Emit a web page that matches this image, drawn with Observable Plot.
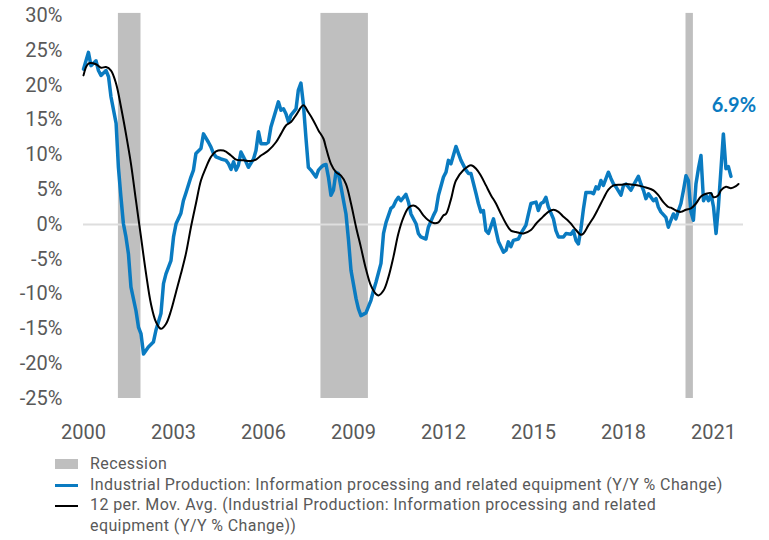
<!DOCTYPE html>
<html><head><meta charset="utf-8">
<script src="https://cdn.jsdelivr.net/npm/d3@7"></script>
<script src="https://cdn.jsdelivr.net/npm/@observablehq/plot@0.6"></script>
<style>
body{margin:0;background:#fff;font-family:Roboto, "Noto Sans", sans-serif;}
#chart{position:relative;width:769px;height:540px;overflow:hidden;}
#chart svg{display:block;}
.legend{position:absolute;left:55px;top:454px;font-size:16px;letter-spacing:0.4px;color:#595959;line-height:20.7px;}
.row{display:flex;align-items:flex-start;}
.swbox{width:23px;height:20.7px;margin-right:12px;flex:none;display:flex;align-items:center;}
.sw{width:23px;}
</style></head>
<body><div id="chart"></div>
<script>
const blueDates = ["2000-01","2000-03","2000-04","2000-06","2000-07","2000-08","2000-10","2000-11","2000-12",
"2001-02","2001-03","2001-04","2001-05","2001-06","2001-07","2001-08","2001-10","2001-11","2001-12",
"2002-01","2002-03","2002-05","2002-06","2002-08","2002-09","2002-10","2002-12",
"2003-01","2003-02","2003-04","2003-05","2003-06","2003-08","2003-09","2003-10","2003-12",
"2004-01","2004-03","2004-04","2004-05","2004-06","2004-08","2004-10","2004-11","2004-12",
"2005-01","2005-02","2005-03","2005-04","2005-05","2005-06","2005-07","2005-09","2005-10","2005-11","2005-12",
"2006-02","2006-03","2006-04","2006-06","2006-07","2006-08","2006-09","2006-10","2006-11","2006-12",
"2007-02","2007-03","2007-04","2007-05","2007-06","2007-07","2007-08","2007-10","2007-11","2007-12",
"2008-01","2008-02","2008-03","2008-04","2008-05","2008-06","2008-07","2008-08","2008-10","2008-11","2008-12",
"2009-02","2009-03","2009-04","2009-06","2009-08","2009-09","2009-10","2009-12",
"2010-01","2010-02","2010-04","2010-05","2010-06","2010-07","2010-08","2010-10","2010-11","2010-12",
"2011-02","2011-03","2011-04","2011-06","2011-07","2011-09","2011-10","2011-11",
"2012-01","2012-02","2012-03","2012-04","2012-06","2012-07","2012-08","2012-10","2012-11","2012-12",
"2013-02","2013-03","2013-04","2013-05","2013-06","2013-07","2013-09","2013-10","2013-11",
"2014-01","2014-02","2014-03","2014-04","2014-05","2014-07","2014-08","2014-10","2014-11","2014-12",
"2015-02","2015-03","2015-04","2015-05","2015-06","2015-07","2015-09","2015-10","2015-11",
"2016-01","2016-02","2016-04","2016-05","2016-06","2016-07","2016-08","2016-09","2016-10","2016-12",
"2017-01","2017-02","2017-03","2017-04","2017-05","2017-07","2017-08","2017-09","2017-10","2017-12",
"2018-01","2018-02","2018-04","2018-05","2018-07","2018-08","2018-09","2018-10","2018-11",
"2019-01","2019-02","2019-03","2019-04","2019-06","2019-07","2019-08","2019-09","2019-10","2019-11","2019-12",
"2020-01","2020-02","2020-03","2020-04","2020-05","2020-06","2020-07","2020-08","2020-09","2020-10","2020-11","2020-12",
"2021-01","2021-02","2021-03","2021-04","2021-05","2021-06","2021-07","2021-08"];
const blueValues = [22.3,24.7,22.8,23.5,22.1,21.4,22.1,21.2,18.3,
14.5,8.2,3.9,0.1,-1.8,-4.2,-9.0,-12.4,-14.8,-15.7,
-18.6,-17.6,-16.9,-15.2,-12.8,-8.5,-7.1,-5.2,
-1.8,0.1,1.6,3.4,4.5,6.8,7.8,10.2,10.9,
13.0,11.8,11.1,10.2,9.7,9.4,9.2,8.7,7.9,
9.0,7.8,8.5,10.4,9.7,9.0,8.2,9.4,10.6,13.3,11.6,
11.6,11.8,14.0,16.4,17.6,16.4,16.6,15.9,14.7,15.7,
16.6,19.3,20.3,17.3,12.5,8.2,7.8,6.8,7.8,8.2,
8.5,8.6,6.8,4.2,4.9,7.5,7.3,5.4,1.5,-2.3,-6.6,
-10.7,-12.1,-13.1,-12.7,-10.9,-9.5,-8.3,-5.6,
-1.3,0.3,2.3,2.6,3.4,3.9,3.4,4.3,3.2,1.5,
0.1,-1.3,-1.8,-2.1,-0.4,1.3,2.0,4.2,
6.8,7.5,9.2,8.7,11.2,10.2,9.2,7.8,7.3,7.3,
4.4,3.0,1.8,2.0,-0.9,-1.3,0.8,-0.9,-2.5,
-4.0,-3.7,-2.5,-3.2,-2.3,-2.1,-1.3,-0.1,1.5,3.0,
3.2,2.0,3.0,3.2,3.9,2.5,0.8,-0.9,-1.8,
-1.8,-1.3,-1.4,-0.9,-2.3,-2.8,-0.6,2.3,4.6,4.6,
4.4,5.4,5.1,6.3,5.6,7.5,6.6,5.8,5.4,4.2,
5.6,5.8,4.9,5.6,6.9,5.8,4.9,3.7,4.4,
3.4,3.7,2.5,1.8,1.0,-0.4,0.6,1.5,0.8,2.0,3.0,
4.9,7.0,6.3,1.8,0.6,5.8,8.0,9.9,3.4,4.2,3.4,4.4,
2.5,-1.3,2.5,7.8,13.0,8.0,8.3,6.9];

const avgDates = ["2000-01","2000-03","2000-06","2000-08","2000-10","2000-12","2001-02","2001-04","2001-06","2001-08","2001-10","2001-12",
"2002-02","2002-04","2002-06","2002-08","2002-10","2002-12","2003-02","2003-04","2003-06","2003-08","2003-10","2003-12",
"2004-02","2004-04","2004-06","2004-09","2004-12","2005-02","2005-05","2005-08","2005-10","2005-12",
"2006-03","2006-06","2006-08","2006-10","2006-12","2007-02","2007-05","2007-07","2007-09","2007-11",
"2008-01","2008-02","2008-04","2008-06","2008-08","2008-10","2008-12","2009-02","2009-04","2009-06","2009-08","2009-10","2009-11",
"2010-01","2010-03","2010-05","2010-07","2010-09","2010-11","2011-01","2011-03","2011-05","2011-07","2011-09","2011-11",
"2012-01","2012-02","2012-04","2012-06","2012-09","2012-12","2013-02","2013-04","2013-06","2013-08","2013-10","2013-12",
"2014-02","2014-04","2014-06","2014-09","2014-12","2015-02","2015-04","2015-07","2015-09","2015-11",
"2016-01","2016-03","2016-04","2016-06","2016-08","2016-09","2016-11","2017-01","2017-03","2017-05","2017-07","2017-09","2017-12",
"2018-02","2018-05","2018-08","2018-10","2019-01","2019-03","2019-05","2019-07","2019-08","2019-10","2019-12",
"2020-02","2020-04","2020-06","2020-08","2020-10","2020-12","2021-01","2021-03","2021-04","2021-06","2021-08","2021-10","2021-11"];
const avgValues = [21.4,23.1,23.0,22.5,22.6,22.1,20.2,16.9,13.0,8.7,3.4,-1.8,
-7.1,-11.4,-14.0,-15.0,-14.3,-12.4,-9.7,-7.1,-4.2,-0.4,3.0,6.3,
8.2,9.7,10.5,10.6,9.9,9.3,9.2,9.1,9.3,9.9,
10.6,11.8,13.0,14.2,14.7,15.7,17.1,16.1,14.9,13.5,
12.3,11.0,8.7,7.5,7.0,5.8,3.0,-0.4,-3.3,-6.4,-8.8,-10.0,-10.2,
-9.5,-7.6,-4.7,-1.3,1.0,2.4,2.7,2.3,1.3,0.6,0.2,0.3,
1.3,1.5,3.6,6.3,7.8,8.5,8.0,7.0,5.6,4.2,3.0,1.5,
0.1,-0.9,-1.1,-1.3,-0.8,0.1,0.8,1.8,2.1,1.8,
1.1,0.5,0.1,-0.8,-1.5,-1.3,-0.1,1.0,2.3,3.7,5.0,5.6,5.7,
5.8,5.7,5.5,5.3,4.9,4.2,3.2,2.5,2.4,2.0,1.8,
2.1,2.3,3.0,4.0,4.4,4.5,3.9,4.2,4.9,5.4,5.2,5.5,5.8];

const recessionStarts = ["2001-03","2007-12","2020-02"];
const recessionEnds = ["2001-12","2009-07","2020-05"];

const xTickYears = ["2000","2003","2006","2009","2012","2015","2018","2021"];
const yTicks = [-25,-20,-15,-10,-5,0,5,10,15,20,25,30];

const parse = d3.utcParse("%Y-%m");
const parseY = d3.utcParse("%Y");
const blue = blueDates.map((d,i)=>({date:parse(d), value:blueValues[i]}));
const avg = avgDates.map((d,i)=>({date:parse(d), value:avgValues[i]}));
const rec = recessionStarts.map((d,i)=>({start:parse(d), end:parse(recessionEnds[i])}));
const yDom = [d3.min(yTicks), d3.max(yTicks)];
const BLUE = "#0a7bc1";

const plot = Plot.plot({
  width:769, height:445,
  marginLeft:83, marginRight:26, marginTop:15, marginBottom:47,
  x:{type:"utc", domain:[parseY("2000"), parseY("2022")], ticks:xTickYears.map(parseY),
     tickFormat:d3.utcFormat("%Y"), tickSize:0, tickPadding:26, label:null},
  y:{domain:yDom, ticks:yTicks, tickFormat:d=>d+"%", tickSize:0, tickPadding:21, label:null},
  style:{fontFamily:"Roboto, sans-serif", fontSize:"20px", color:"#595959", background:"transparent", overflow:"visible"},
  marks:[
    Plot.rect(rec, {x1:"start", x2:"end", y1:yDom[0], y2:yDom[1]+0.3, fill:"#bfbfbf"}),
    Plot.ruleY([0], {stroke:"#dedede", strokeWidth:2}),
    Plot.line(blue, {x:"date", y:"value", stroke:BLUE, strokeWidth:3.5, strokeLinejoin:"round"}),
    Plot.line(avg, {x:"date", y:"value", stroke:"#000", strokeWidth:2, curve:"catmull-rom"}),
    Plot.text([blue[blue.length-1]], {x:"date", y:"value", text:d=>d.value.toFixed(1)+"%",
      dy:-71, dx:3, fill:BLUE, fontWeight:"bold", fontSize:20, fontFamily:"Lato, Roboto, sans-serif"})
  ]
});
const chart = document.getElementById("chart");
chart.appendChild(plot);

const legend = document.createElement("div");
legend.className = "legend";
legend.innerHTML = `
<div class="row"><div class="swbox"><div class="sw" style="height:10px;background:#bfbfbf"></div></div><div>Recession</div></div>
<div class="row"><div class="swbox"><div class="sw" style="height:3px;background:${BLUE}"></div></div><div>Industrial Production: Information processing and related equipment (Y/Y % Change)</div></div>
<div class="row"><div class="swbox"><div class="sw" style="height:2.5px;background:#000"></div></div><div>12 per. Mov. Avg. (Industrial Production: Information processing and related<br>equipment (Y/Y % Change))</div></div>`;
chart.appendChild(legend);
</script>
</body></html>
